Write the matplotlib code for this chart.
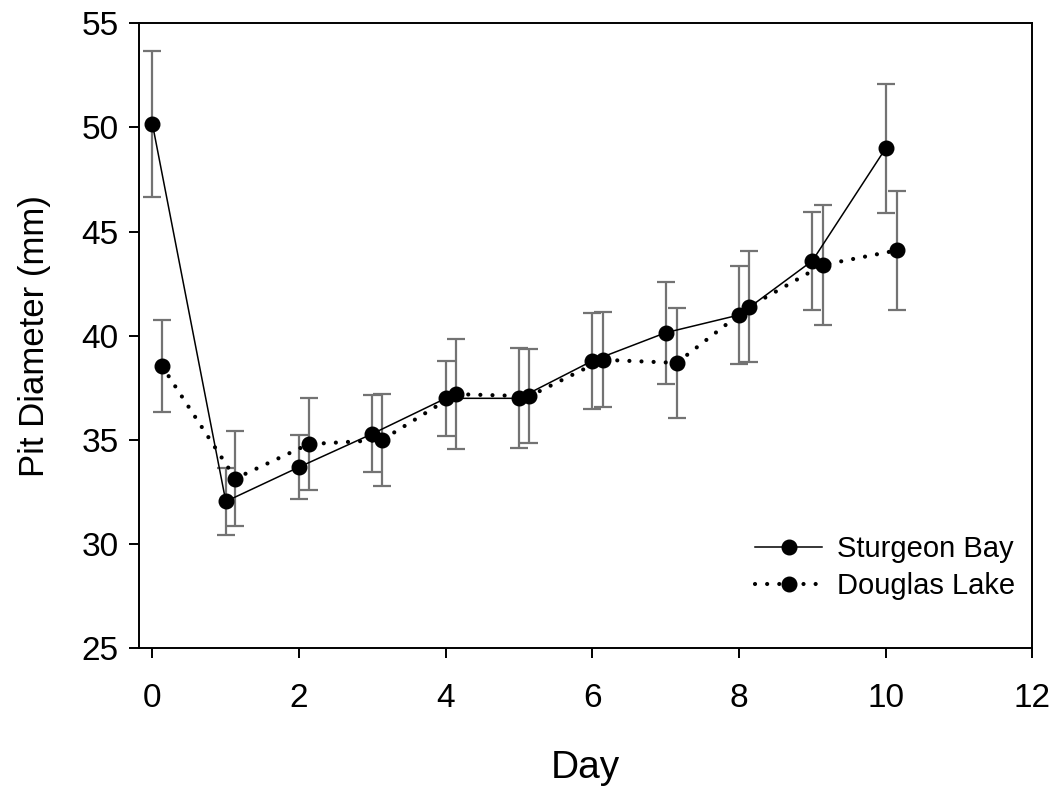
import matplotlib
matplotlib.use("Agg")
import matplotlib.pyplot as plt
from matplotlib.lines import Line2D

plt.rcParams['font.family'] = ['Liberation Sans', 'DejaVu Sans']

days = [0, 1, 2, 3, 4, 5, 6, 7, 8, 9, 10]
dl_days = [0.13, 1.13, 2.13, 3.13, 4.14, 5.14, 6.14, 7.15, 8.14, 9.14, 10.15]

sturgeon_mean = [50.15, 32.05, 33.7, 35.3, 37.0, 37.0, 38.8, 40.15, 41.0, 43.6, 49.0]
sturgeon_err = [3.5, 1.6, 1.55, 1.85, 1.8, 2.4, 2.3, 2.45, 2.35, 2.35, 3.1]

douglas_mean = [38.55, 33.15, 34.8, 35.0, 37.2, 37.1, 38.85, 38.7, 41.4, 43.4, 44.1]
douglas_err = [2.2, 2.3, 2.2, 2.2, 2.65, 2.25, 2.27, 2.65, 2.66, 2.9, 2.85]

series_labels = ["Sturgeon Bay", "Douglas Lake"]
xticks = [0, 2, 4, 6, 8, 10, 12]
yticks = [25, 30, 35, 40, 45, 50, 55]

fig = plt.figure(figsize=(10.6, 7.87), dpi=100)
ax = fig.add_axes([0.1314, 0.1762, 0.9739 - 0.1314, 0.9704 - 0.1762])

err_kw = dict(ecolor='#737373', elinewidth=1.6, capsize=6.5, capthick=1.6, fmt='none', zorder=1)
ax.errorbar(days, sturgeon_mean, yerr=sturgeon_err, **err_kw)
ax.errorbar(dl_days, douglas_mean, yerr=douglas_err, **err_kw)

dot_style = (0, (0.01, 2.9))
ax.plot(days, sturgeon_mean, color='black', lw=1.1, zorder=2)
ax.plot(dl_days, douglas_mean, color='black', lw=3.0, linestyle=dot_style,
        dash_capstyle='round', zorder=2)
ax.plot(days, sturgeon_mean, 'o', color='black', ms=10.5, zorder=3)
ax.plot(dl_days, douglas_mean, 'o', color='black', ms=10.5, zorder=3)

ax.set_xlim(-0.18, 12)
ax.set_ylim(25, 55)
ax.set_xticks(xticks)
ax.set_yticks(yticks)
ax.tick_params(axis='both', direction='out', length=7, width=1.4, labelsize=24)
ax.tick_params(axis='x', pad=18)
ax.tick_params(axis='y', pad=8)
for s in ax.spines.values():
    s.set_linewidth(1.4)

ax.set_xlabel("Day", fontsize=28, labelpad=26)
ax.set_ylabel("Pit Diameter (mm)", fontsize=25, labelpad=22)

h1 = Line2D([], [], color='black', lw=1.1, marker='o', ms=10.5)
h2 = Line2D([], [], color='black', lw=3.0, linestyle=dot_style, dash_capstyle='round',
            marker='o', ms=10.5)
ax.legend([h1, h2], series_labels, loc='lower right', bbox_to_anchor=(1.01, 0.035),
          frameon=False, fontsize=21, handlelength=2.3, handletextpad=0.5,
          labelspacing=0.3, markerscale=1.0)

fig.savefig("out.png", dpi=100)
